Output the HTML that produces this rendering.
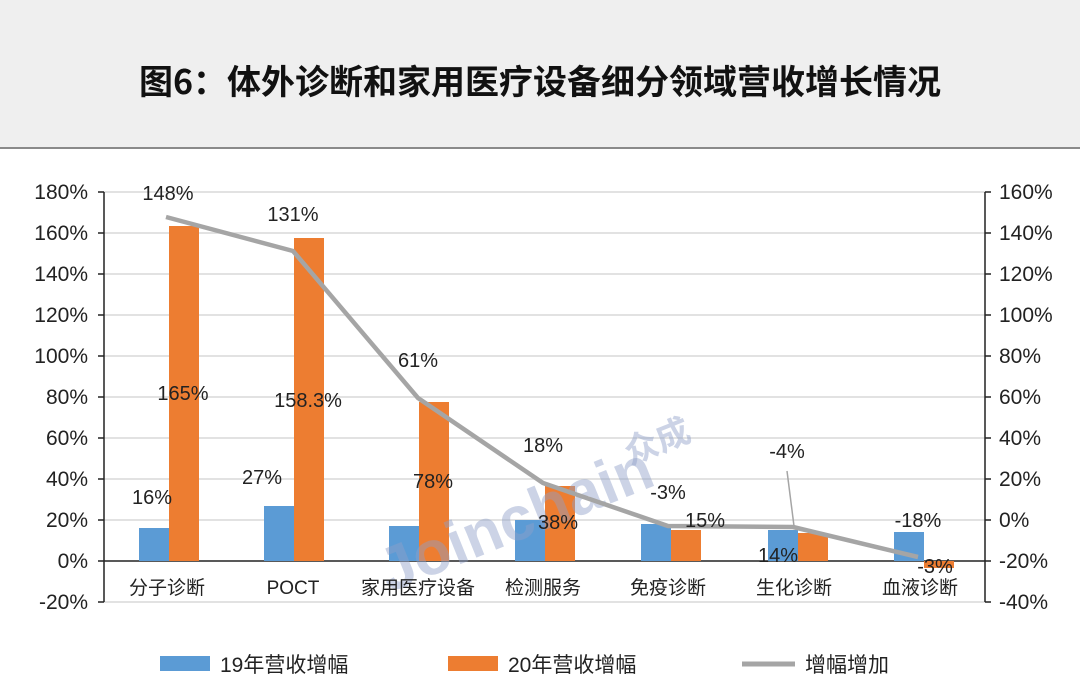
<!DOCTYPE html>
<html><head><meta charset="utf-8"><style>
body{margin:0;width:1080px;height:683px;overflow:hidden;background:#fff;font-family:"Liberation Sans","Noto Sans CJK SC",sans-serif;}
.hdr{position:absolute;left:0;top:0;width:1080px;height:147px;background:#efefef;border-bottom:2px solid #8a8a8a;}
.hdr div{position:absolute;top:55px;width:100%;text-align:center;font-size:34px;font-weight:bold;color:#111;font-family:"Noto Sans CJK SC",sans-serif;}
</style></head><body>
<div class="hdr"><div>图6：体外诊断和家用医疗设备细分领域营收增长情况</div></div>
<svg width="1080" height="683" style="position:absolute;left:0;top:0" font-family="Liberation Sans, Noto Sans CJK SC, sans-serif">
<g stroke="#d9d9d9" stroke-width="1.5">
<line x1="104" x2="985" y1="192" y2="192"/><line x1="104" x2="985" y1="233" y2="233"/><line x1="104" x2="985" y1="274" y2="274"/><line x1="104" x2="985" y1="315" y2="315"/><line x1="104" x2="985" y1="356" y2="356"/><line x1="104" x2="985" y1="397" y2="397"/><line x1="104" x2="985" y1="438" y2="438"/><line x1="104" x2="985" y1="479" y2="479"/><line x1="104" x2="985" y1="520" y2="520"/><line x1="104" x2="985" y1="602" y2="602"/>
</g>
<g stroke="#222" stroke-width="1.5">
<line x1="104" x2="104" y1="192" y2="602"/>
<line x1="985" x2="985" y1="192" y2="602"/>
<line x1="104" x2="985" y1="561" y2="561"/>
<path d="M98 192H104M98 233H104M98 274H104M98 315H104M98 356H104M98 397H104M98 438H104M98 479H104M98 520H104M98 561H104M98 602H104"/>
<path d="M985 192H991M985 233H991M985 274H991M985 315H991M985 356H991M985 397H991M985 438H991M985 479H991M985 520H991M985 561H991M985 602H991"/>
</g>
<g font-size="21" fill="#222" text-anchor="end">
<text x="88" y="199">180%</text><text x="88" y="240">160%</text><text x="88" y="281">140%</text><text x="88" y="322">120%</text><text x="88" y="363">100%</text><text x="88" y="404">80%</text><text x="88" y="445">60%</text><text x="88" y="486">40%</text><text x="88" y="527">20%</text><text x="88" y="568">0%</text><text x="88" y="609">-20%</text>
</g>
<g font-size="21" fill="#222">
<text x="999" y="199">160%</text><text x="999" y="240">140%</text><text x="999" y="281">120%</text><text x="999" y="322">100%</text><text x="999" y="363">80%</text><text x="999" y="404">60%</text><text x="999" y="445">40%</text><text x="999" y="486">20%</text><text x="999" y="527">0%</text><text x="999" y="568">-20%</text><text x="999" y="609">-40%</text>
</g>
<g fill="#5b9bd5">
<rect x="139" y="528" width="30" height="33"/>
<rect x="264" y="506" width="30" height="55"/>
<rect x="389" y="526" width="30" height="35"/>
<rect x="515" y="520" width="30" height="41"/>
<rect x="641" y="524" width="30" height="37"/>
<rect x="768" y="530" width="30" height="31"/>
<rect x="894" y="532" width="30" height="29"/>
</g>
<g fill="#ed7d31">
<rect x="169" y="226" width="30" height="335"/>
<rect x="294" y="238" width="30" height="323"/>
<rect x="419" y="402" width="30" height="159"/>
<rect x="545" y="486" width="30" height="75"/>
<rect x="671" y="530" width="30" height="31"/>
<rect x="798" y="533" width="30" height="28"/>
<rect x="924" y="561" width="30" height="7"/>
</g>
<text x="360" y="548" font-size="62" font-weight="bold" fill="#8fa0c8" opacity="0.45" transform="rotate(-22 490 495)" font-family="Liberation Sans, sans-serif">Joinchain</text>
<text x="630" y="465" font-size="34" font-weight="bold" fill="#8fa0c8" opacity="0.45" transform="rotate(-22 630 465)" font-family="Noto Sans CJK SC, sans-serif">众成</text>
<polyline points="166,217 293,251 418,398 543,483 668,526 793,527 918,557" fill="none" stroke="#a5a5a5" stroke-width="4.5" stroke-linejoin="round"/>
<line x1="787" y1="471" x2="794" y2="526" stroke="#a5a5a5" stroke-width="1.5"/>
<g font-size="20" fill="#222" text-anchor="middle">
<text x="168" y="200">148%</text><text x="293" y="221">131%</text><text x="418" y="367">61%</text><text x="543" y="452">18%</text><text x="668" y="499">-3%</text><text x="787" y="458">-4%</text><text x="918" y="527">-18%</text>
<text x="152" y="504">16%</text><text x="183" y="400">165%</text><text x="262" y="484">27%</text><text x="308" y="407">158.3%</text><text x="433" y="488">78%</text><text x="558" y="529">38%</text><text x="705" y="527">15%</text><text x="778" y="562">14%</text><text x="935" y="573">-3%</text>
</g>
<g font-size="19" fill="#222" text-anchor="middle">
<text x="167" y="594">分子诊断</text><text x="293" y="594">POCT</text><text x="418" y="594">家用医疗设备</text><text x="543" y="594">检测服务</text><text x="668" y="594">免疫诊断</text><text x="794" y="594">生化诊断</text><text x="920" y="594">血液诊断</text>
</g>
<rect x="160" y="656" width="50" height="15" fill="#5b9bd5"/>
<text x="220" y="672" font-size="21" fill="#222">19年营收增幅</text>
<rect x="448" y="656" width="50" height="15" fill="#ed7d31"/>
<text x="508" y="672" font-size="21" fill="#222">20年营收增幅</text>
<line x1="742" y1="664" x2="795" y2="664" stroke="#a5a5a5" stroke-width="5"/>
<text x="805" y="672" font-size="21" fill="#222">增幅增加</text>
</svg>
</body></html>
